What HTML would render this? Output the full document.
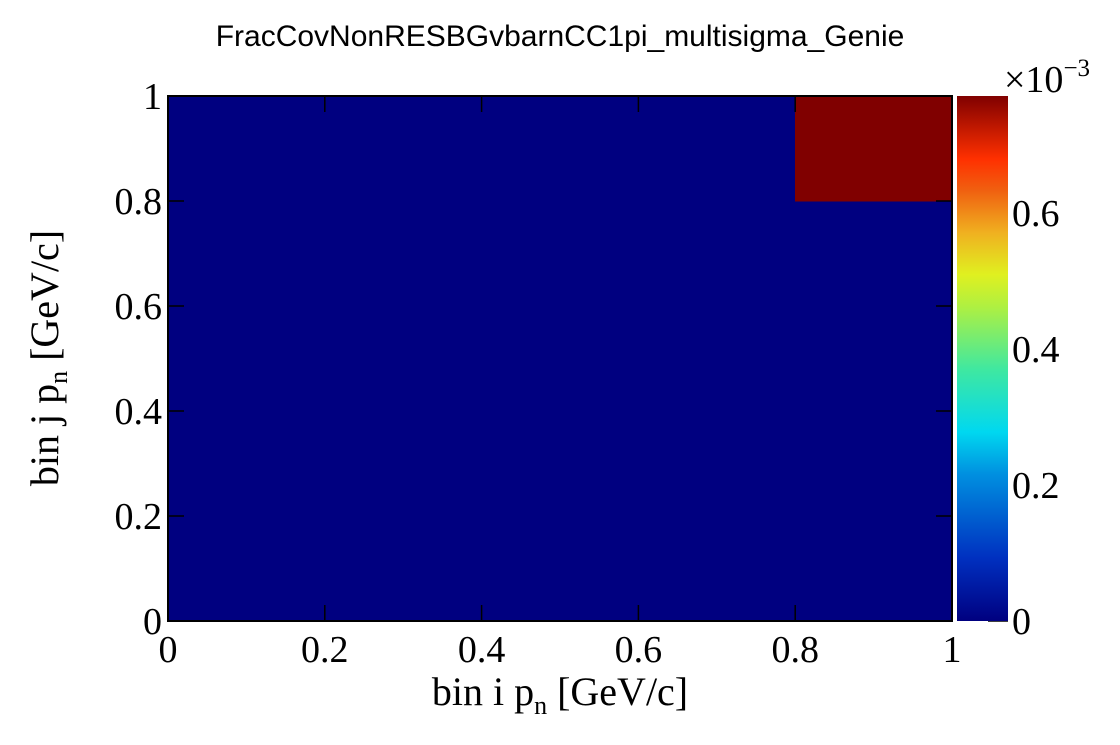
<!DOCTYPE html>
<html><head><meta charset="utf-8"><style>
body{margin:0;background:#fff;width:1120px;height:740px;overflow:hidden;font-family:"Liberation Serif",serif}
</style></head><body>
<svg id="chart" width="1120" height="740">
<defs><linearGradient id="cb" x1="0" y1="1" x2="0" y2="0">
<stop offset="0" stop-color="#000080"/><stop offset="0.12" stop-color="#0030c0"/>
<stop offset="0.28" stop-color="#0090e0"/><stop offset="0.36" stop-color="#00d8f0"/>
<stop offset="0.48" stop-color="#40e8a0"/><stop offset="0.6" stop-color="#b0f040"/>
<stop offset="0.66" stop-color="#e0f020"/><stop offset="0.74" stop-color="#f0b020"/>
<stop offset="0.82" stop-color="#f06010"/><stop offset="0.88" stop-color="#ff3000"/>
<stop offset="1" stop-color="#800000"/></linearGradient></defs>
<text x="560" y="46" font-family="Liberation Sans, sans-serif" font-size="30" text-anchor="middle">FracCovNonRESBGvbarnCC1pi_multisigma_Genie</text>
<g id="cells" shape-rendering="crispEdges"></g>
<rect x="168" y="96" width="784" height="525" fill="none" stroke="#000" stroke-width="2"/>
<g id="axes" font-size="38"></g>
<rect x="957" y="96" width="51" height="525" fill="url(#cb)"/>
<text x="1004" y="92" font-size="38">×10<tspan dy="-16" font-size="25">−3</tspan></text>
<text x="560" y="705" font-size="40" text-anchor="middle">bin i p<tspan dy="9" font-size="26">n</tspan><tspan dy="-9"> [GeV/c]</tspan></text>
<text transform="translate(58,358) rotate(-90)" font-size="40" text-anchor="middle">bin j p<tspan dy="9" font-size="26">n</tspan><tspan dy="-9"> [GeV/c]</tspan></text>
</svg>
<script>
const binEdges=[0,0.2,0.4,0.6,0.8,1.0];
const values=[
[0,0,0,0,0],
[0,0,0,0,0],
[0,0,0,0,0],
[0,0,0,0,0],
[0,0,0,0,0.77]];
const axisTicks=["0","0.2","0.4","0.6","0.8","1"];
const colorTicks=[0,0.2,0.4,0.6];
const zMax=0.772;
const NS="http://www.w3.org/2000/svg";
const X=v=>168+v*784, Y=v=>621-v*525, Z=v=>621-v/zMax*525;
function color(v){const t=v/zMax;return t>0.9?"#800000":t<0.05?"#000080":"#40e8a0";}
const cells=document.getElementById('cells');
for(let i=0;i<5;i++)for(let j=0;j<5;j++){
const r=document.createElementNS(NS,'rect');
r.setAttribute('x',X(binEdges[i]));r.setAttribute('y',Y(binEdges[j+1]));
r.setAttribute('width',X(binEdges[i+1])-X(binEdges[i])+0.5);r.setAttribute('height',Y(binEdges[j])-Y(binEdges[j+1])+0.5);
r.setAttribute('fill',color(values[i][j]));


cells.appendChild(r);}
const ax=document.getElementById('axes');
function line(x1,y1,x2,y2){const l=document.createElementNS(NS,'line');l.setAttribute('x1',x1);l.setAttribute('y1',y1);l.setAttribute('x2',x2);l.setAttribute('y2',y2);l.setAttribute('stroke','#000');l.setAttribute('stroke-width','1.5');


ax.appendChild(l);}
function text(x,y,s,a,n){const t=document.createElementNS(NS,'text');t.setAttribute('x',x);t.setAttribute('y',y);t.setAttribute('text-anchor',a);t.textContent=s;


ax.appendChild(t);}
axisTicks.forEach((s,k)=>{const v=+s;
line(X(v),621,X(v),605);line(168,Y(v),184,Y(v));
if(v>0&&v<1){line(X(v),96,X(v),112);line(952,Y(v),936,Y(v));}
text(X(v),662,s,'middle','x-tick-label');
text(162,Y(v)+13,s,'end','y-tick-label');});
colorTicks.forEach(v=>{line(1008,Z(v),988,Z(v));text(1012,Z(v)+13,String(v),'start','color-tick-label');});
</script>
</body></html>
